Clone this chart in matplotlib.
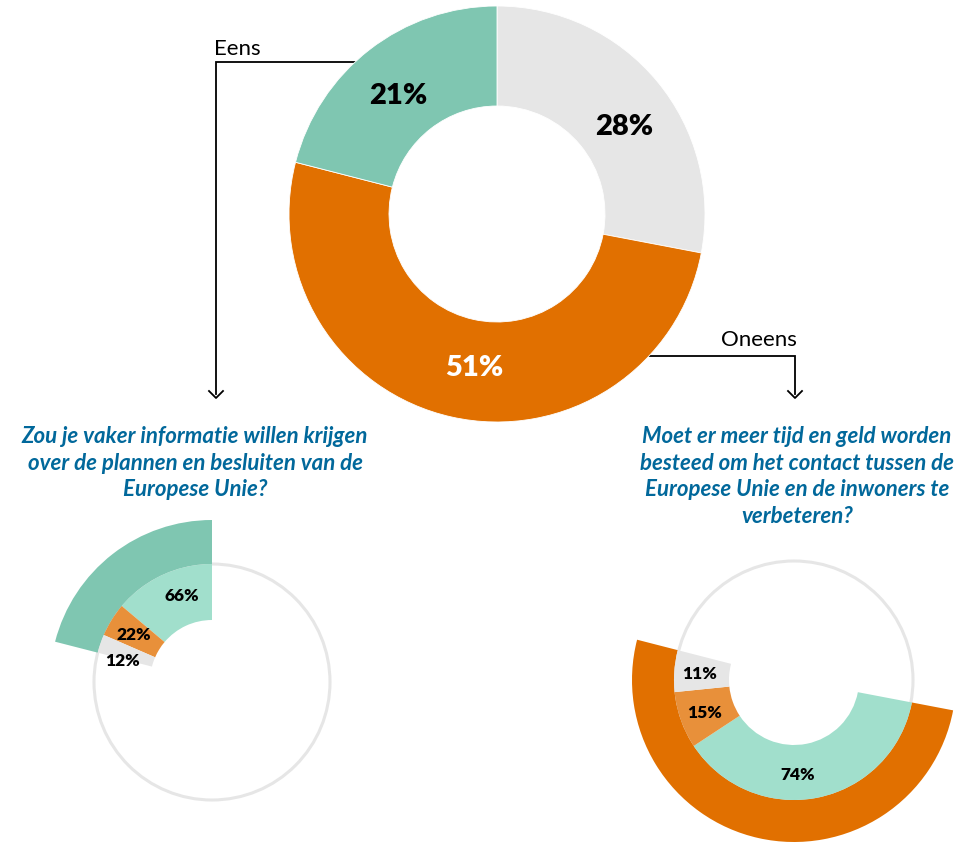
import matplotlib
matplotlib.use("Agg")
import matplotlib.pyplot as plt
import numpy as np
from matplotlib.patches import Circle

# ---------------- data ----------------
main_labels = ["Weet niet", "Oneens", "Eens"]
main_values = [28, 51, 21]

left_title = "Zou je vaker informatie willen krijgen\nover de plannen en besluiten van de\nEuropese Unie?"
left_values = [66, 22, 12]

right_title = "Moet er meer tijd en geld worden\nbesteed om het contact tussen de\nEuropese Unie en de inwoners te\nverbeteren?"
right_values = [74, 15, 11]

# ---------------- style ----------------
GRAY = "#e6e6e6"
ORANGE = "#e17000"
ORANGE_L = "#e8903a"
TEAL = "#7fc6b1"
TEAL_L = "#a1dfcc"
BLUE = "#01689b"

W, H = 958, 845
fig = plt.figure(figsize=(W / 100, H / 100), dpi=100)
ax = fig.add_axes([0, 0, 1, 1])

def Y(y):
    return H - y

FONT = ["Lato", "DejaVu Sans"]

def label_wedges(wedges, texts, colors, size, rfrac=0.5, dr=0.0, dang=None):
    dang = dang or [0] * len(wedges)
    for w, t, c, da in zip(wedges, texts, colors, dang):
        mid = np.deg2rad((w.theta1 + w.theta2) / 2 + da)
        r = w.r - w.width * rfrac + dr
        cx, cy = w.center
        ax.text(cx + r * np.cos(mid), cy + r * np.sin(mid), t, ha="center", va="center",
                fontsize=size, fontweight="heavy", color=c, family=FONT, zorder=6)

# ---------------- main donut ----------------
main_c = (497, Y(215))
wm, _ = ax.pie(main_values, colors=[GRAY, ORANGE, TEAL], startangle=90, counterclock=False,
               radius=208, center=main_c,
               wedgeprops=dict(width=100, linewidth=0.6, edgecolor="white"))
for w in wm:
    w.set_zorder(3)
label_wedges(wm, [f"{v}%" for v in main_values], ["black", "white", "black"], 21,
             dang=[-5, 4, 2], dr=-3)

# share of main pie (fractions)
frac = [v / 100 for v in main_values]
oneens_start = 90 - 360 * frac[0]        # orange slice starts here (cw)

# ---------------- left sector (Eens) ----------------
lc = (212, Y(683))
ax.add_patch(Circle(lc, 118, fill=False, edgecolor=GRAY, linewidth=2.2, zorder=1))
wl_out, _ = ax.pie([frac[2]], normalize=False, colors=[TEAL], startangle=90, counterclock=True,
                   radius=162, center=lc, wedgeprops=dict(width=44, linewidth=0))
wl_in, _ = ax.pie([frac[2] * v / 100 for v in left_values], normalize=False,
                  colors=[TEAL_L, ORANGE_L, GRAY], startangle=90, counterclock=True,
                  radius=118, center=lc, wedgeprops=dict(width=56, linewidth=0))
for w in wl_out + wl_in:
    w.set_zorder(3)
label_wedges(wl_in, [f"{v}%" for v in left_values], ["black"] * 3, 12.5,
             dang=[-6, 0, 5], dr=2)

# ---------------- right sector (Oneens) ----------------
rc = (794, Y(681))
ax.add_patch(Circle(rc, 119, fill=False, edgecolor=GRAY, linewidth=2.2, zorder=1))
wr_out, _ = ax.pie([frac[1]], normalize=False, colors=[ORANGE], startangle=oneens_start,
                   counterclock=False, radius=162, center=rc, wedgeprops=dict(width=42, linewidth=0))
wr_in, _ = ax.pie([frac[1] * v / 100 for v in right_values], normalize=False,
                  colors=[TEAL_L, ORANGE_L, GRAY], startangle=oneens_start, counterclock=False,
                  radius=120, center=rc, wedgeprops=dict(width=55, linewidth=0))
for w in wr_out + wr_in:
    w.set_zorder(3)
label_wedges(wr_in, [f"{v}%" for v in right_values], ["black"] * 3, 12.5,
             dang=[-9, 0, 0], dr=2)

# ---------------- connectors ----------------
lw = 1.3
ax.plot([420, 216, 216], [Y(63), Y(63), Y(395)], color="black", lw=lw, zorder=2,
        solid_joinstyle="miter")
ax.plot([209, 216, 223], [Y(392), Y(399), Y(392)], color="black", lw=lw, zorder=2)
ax.text(214, Y(55), "Eens", ha="left", va="baseline", fontsize=16, family=FONT, color="black")

ax.plot([600, 795, 795], [Y(357), Y(357), Y(395)], color="black", lw=lw, zorder=2,
        solid_joinstyle="miter")
ax.plot([788, 795, 802], [Y(392), Y(399), Y(392)], color="black", lw=lw, zorder=2)
ax.text(797, Y(346), "Oneens", ha="right", va="baseline", fontsize=16, family=FONT, color="black")

# ---------------- titles ----------------
def title(txt, x, y0, step=26.7):
    for i, line in enumerate(txt.split("\n")):
        ax.text(x, Y(y0 + i * step), line, ha="center", va="baseline",
                fontsize=16, fontweight="bold", fontstyle="italic", color=BLUE, family=FONT)

title(left_title, 195, 443)
title(right_title, 797, 443)

ax.set_xlim(0, W)
ax.set_ylim(0, H)
ax.set_aspect("equal")
ax.axis("off")
fig.savefig("out.png", dpi=100)
